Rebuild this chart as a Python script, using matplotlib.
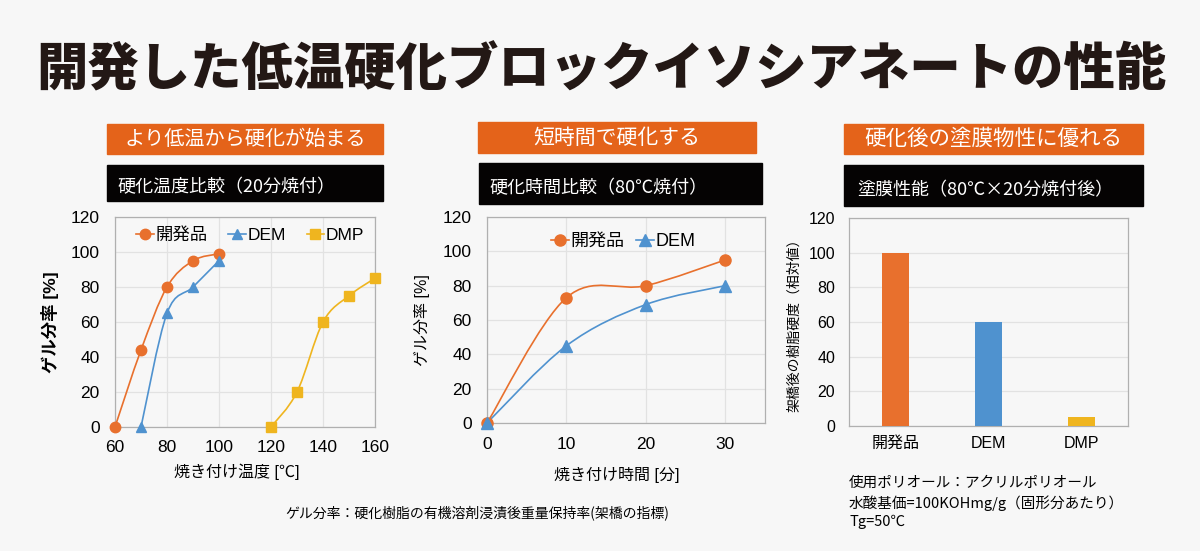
import numpy as np
import matplotlib
matplotlib.use("Agg")
import matplotlib.pyplot as plt
from matplotlib.path import Path
from matplotlib.patches import PathPatch, Rectangle
from matplotlib.lines import Line2D

plt.rcParams['font.family'] = ['Liberation Sans', 'Noto Sans CJK JP', 'DejaVu Sans']
JP = ['Noto Sans CJK JP', 'DejaVu Sans']

# ---- data -------------------------------------------------------------
# chart 1: gel fraction vs baking temperature (20 min)
temp_dev = [60, 70, 80, 90, 100]
gel_dev_t = [0, 44, 80, 95, 99]
temp_dem = [70, 80, 90, 100]
gel_dem_t = [0, 65, 80, 95]
temp_dmp = [120, 130, 140, 150, 160]
gel_dmp_t = [0, 20, 60, 75, 85]

# chart 2: gel fraction vs baking time (80C)
time_min = [0, 10, 20, 30]
gel_dev_m = [0, 73, 80, 95]
gel_dem_m = [0, 45, 69, 80]

# chart 3: relative hardness after curing
bar_names = ['開発品', 'DEM', 'DMP']
hardness = [100, 60, 5]

ORANGE = '#e8702d'
BLUE = '#4f92cf'
YELLOW = '#efb51f'
BG = '#f7f7f7'
HEAD = '#e4631a'

W, H = 1200, 551


def fx(px):
    return px / W


def fy(py):
    return 1 - py / H


def smooth_path(x, y):
    # excel-like smoothed line: catmull-rom segments as cubic bezier
    pts = np.column_stack([x, y]).astype(float)
    verts = [pts[0]]
    codes = [Path.MOVETO]
    n = len(pts)
    for i in range(n - 1):
        p0 = pts[i - 1] if i > 0 else pts[i]
        p1 = pts[i]
        p2 = pts[i + 1]
        p3 = pts[i + 2] if i + 2 < n else pts[i + 1]
        verts += [p1 + (p2 - p0) / 6, p2 - (p3 - p1) / 6, p2]
        codes += [Path.CURVE4] * 3
    return Path(verts, codes)


def series(ax, x, y, color, marker, ms):
    ax.add_patch(PathPatch(smooth_path(x, y), fill=False, edgecolor=color, lw=1.2, zorder=3))
    ax.plot(x, y, linestyle='none', marker=marker, color=color, ms=ms, zorder=4, clip_on=False)


def style_axes(ax, xgrid=True):
    ax.set_facecolor(BG)
    for s in ax.spines.values():
        s.set_color('#b0b0b0')
        s.set_linewidth(0.9)
    ax.grid(axis='y', color='#e2e2e2', lw=0.9)
    if xgrid:
        ax.grid(axis='x', color='#e2e2e2', lw=0.9)
    ax.set_axisbelow(True)
    ax.tick_params(length=0)


fig = plt.figure(figsize=(12, 5.51), dpi=100, facecolor=BG)

# title
fig.text(fx(601), fy(70), '開発した低温硬化ブロックイソシアネートの性能', family=JP,
         fontsize=37, weight='black', color='#231815', ha='center', va='center')

# header boxes
heads = [
    (107, 383, 124, 154, 'より低温から硬化が始まる', 14.5),
    (478, 756, 122, 153, '短時間で硬化する', 15),
    (844, 1143, 124, 154, '硬化後の塗膜物性に優れる', 15.5),
]
subs = [
    (107, 383, 165, 201, 117, 187, '硬化温度比較（20分焼付）'),
    (479, 762, 163, 204, 489, 188, '硬化時間比較（80℃焼付）'),
    (844, 1143, 165, 206, 857, 190, '塗膜性能（80℃×20分焼付後）'),
]
for x0, x1, y0, y1, txt, fs in heads:
    fig.patches.append(Rectangle((fx(x0), fy(y1)), fx(x1 - x0), (y1 - y0) / H,
                                 transform=fig.transFigure, color=HEAD, zorder=1))
    fig.text(fx((x0 + x1) / 2), fy((y0 + y1) / 2), txt, family=JP, fontsize=fs,
             color='white', ha='center', va='center')
for x0, x1, y0, y1, tx, ty, txt in subs:
    fig.patches.append(Rectangle((fx(x0), fy(y1)), fx(x1 - x0), (y1 - y0) / H,
                                 transform=fig.transFigure, color='#050303', zorder=1))
    fig.text(fx(tx), fy(ty), txt, family=JP, fontsize=13, color='white',
             ha='left', va='center')

# ---- chart 1 ----------------------------------------------------------
ax1 = fig.add_axes([fx(115), fy(427), fx(260), 210 / H])
style_axes(ax1)
series(ax1, temp_dev, gel_dev_t, ORANGE, 'o', 7.5)
series(ax1, temp_dem, gel_dem_t, BLUE, '^', 7.5)
series(ax1, temp_dmp, gel_dmp_t, YELLOW, 's', 7)
ax1.set_xlim(60, 160)
ax1.set_ylim(0, 120)
ax1.set_xticks(np.arange(60, 161, 20))
ax1.set_yticks(np.arange(0, 121, 20))
ax1.tick_params(axis='y', pad=11, labelsize=12.5)
ax1.tick_params(axis='x', pad=9, labelsize=12.5)
ax1.set_ylabel('ゲル分率 [%]', fontsize=12.5, weight='bold')
ax1.yaxis.set_label_coords(-0.215, 0.5)
ax1.set_xlabel('焼き付け温度 [℃]', fontsize=11.5)
ax1.xaxis.set_label_coords(0.47, -0.175)
h1 = [Line2D([], [], color=ORANGE, marker='o', ms=7.5, lw=1.2),
      Line2D([], [], color=BLUE, marker='^', ms=7.5, lw=1.2),
      Line2D([], [], color=YELLOW, marker='s', ms=7, lw=1.2)]
ax1.legend(h1, ['開発品', 'DEM', 'DMP'], loc='center', bbox_to_anchor=(0.52, 0.915),
           ncol=3, frameon=False, fontsize=12.5, handlelength=1.0,
           handletextpad=0.1, columnspacing=1.2, borderpad=0)

# ---- chart 2 ----------------------------------------------------------
ax2 = fig.add_axes([fx(487), fy(423), fx(278), 206 / H])
style_axes(ax2)
series(ax2, time_min, gel_dev_m, ORANGE, 'o', 8)
series(ax2, time_min, gel_dem_m, BLUE, '^', 8)
ax2.set_xlim(0, 35)
ax2.set_ylim(0, 120)
ax2.set_xticks([0, 10, 20, 30])
ax2.set_yticks(np.arange(0, 121, 20))
ax2.tick_params(axis='y', pad=11, labelsize=12.5)
ax2.tick_params(axis='x', pad=10, labelsize=12.5)
ax2.set_ylabel('ゲル分率 [%]', fontsize=11.5)
ax2.yaxis.set_label_coords(-0.205, 0.5)
ax2.set_xlabel('焼き付け時間 [分]', fontsize=11.5)
ax2.xaxis.set_label_coords(0.468, -0.215)
h2 = [Line2D([], [], color=ORANGE, marker='o', ms=8, lw=1.2),
      Line2D([], [], color=BLUE, marker='^', ms=8, lw=1.2)]
ax2.legend(h2, ['開発品', 'DEM'], loc='center', bbox_to_anchor=(0.49, 0.88),
           ncol=2, frameon=False, fontsize=13, handlelength=1.0,
           handletextpad=0.1, columnspacing=0.6, borderpad=0)

# ---- chart 3 ----------------------------------------------------------
ax3 = fig.add_axes([fx(849), fy(426), fx(279), 208 / H])
style_axes(ax3, xgrid=False)
ax3.bar(range(len(bar_names)), hardness, width=0.28, color=[ORANGE, BLUE, YELLOW], zorder=3)
ax3.set_xlim(-0.5, 2.5)
ax3.set_ylim(0, 120)
ax3.set_xticks(range(len(bar_names)))
ax3.set_xticklabels(bar_names)
ax3.set_yticks(np.arange(0, 121, 20))
ax3.tick_params(axis='y', pad=10, labelsize=11.5)
ax3.tick_params(axis='x', pad=7, labelsize=11.5)
ax3.set_ylabel('架橋後の樹脂硬度（相対値）', fontsize=10)
ax3.yaxis.set_label_coords(-0.172, 0.5)

# notes
fig.text(fx(849), fy(483), '使用ポリオール：アクリルポリオール', family=JP, fontsize=10.5,
         ha='left', va='center')
fig.text(fx(849), fy(503), '水酸基価=100KOHmg/g（固形分あたり）', family=JP, fontsize=10.5,
         ha='left', va='center')
fig.text(fx(849), fy(522), 'Tg=50℃', family=JP, fontsize=10.5, ha='left', va='center')
fig.text(fx(285), fy(513), 'ゲル分率：硬化樹脂の有機溶剤浸漬後重量保持率(架橋の指標)', family=JP,
         fontsize=10, ha='left', va='center')

fig.savefig('out.png', dpi=100, facecolor=BG)
